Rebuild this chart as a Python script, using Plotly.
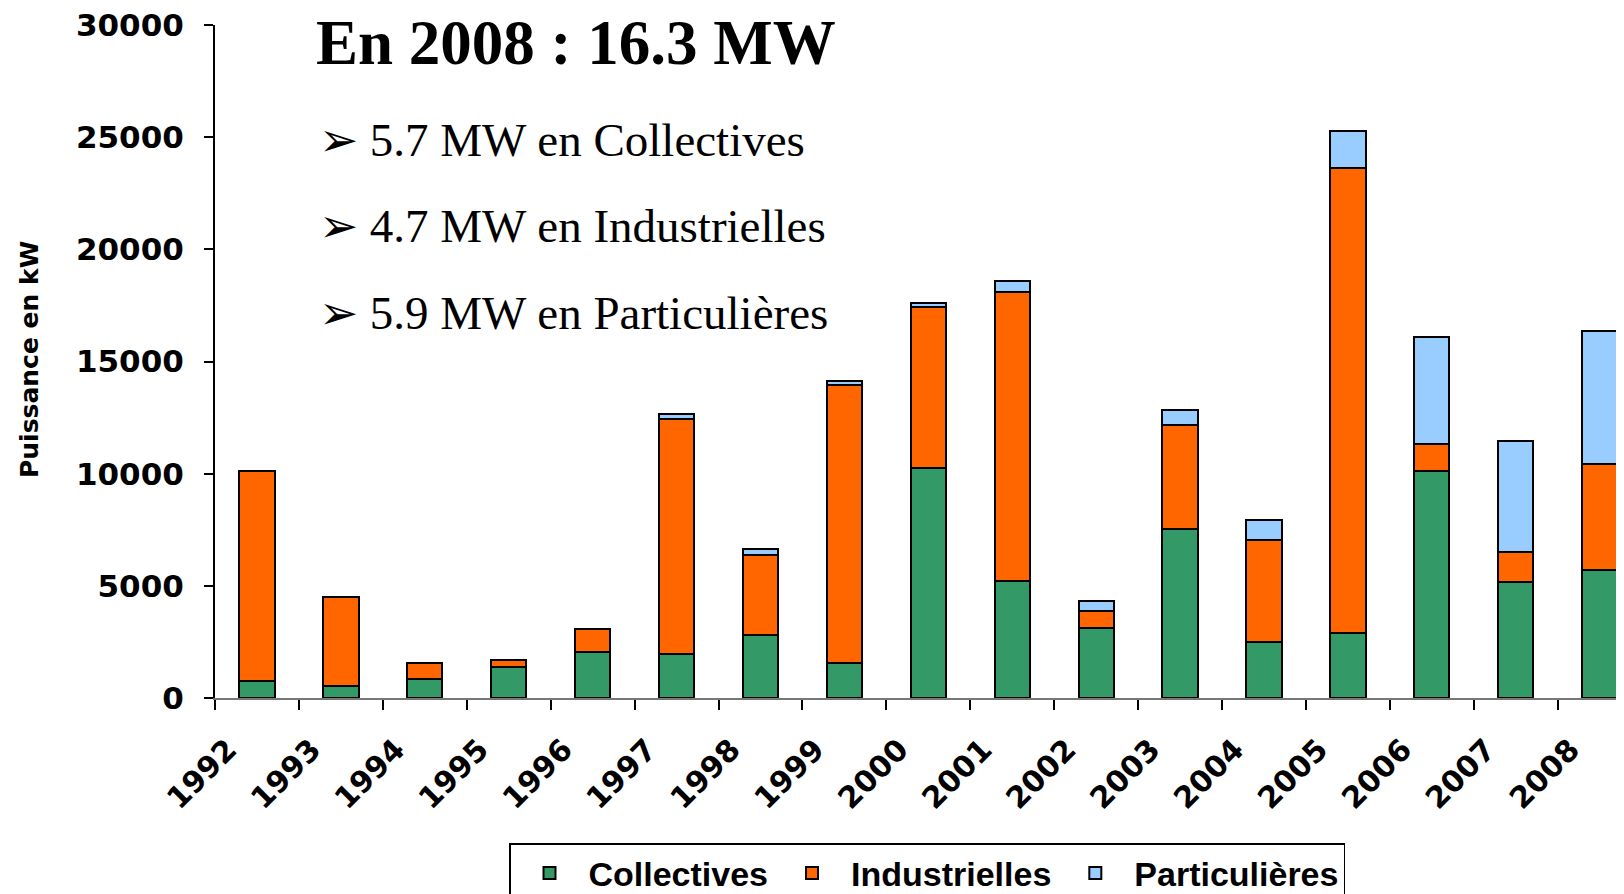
import plotly.graph_objects as go

years = ["1992", "1993", "1994", "1995", "1996", "1997", "1998", "1999", "2000",
         "2001", "2002", "2003", "2004", "2005", "2006", "2007", "2008"]
collectives = [740, 550, 830, 1385, 2030, 1940, 2815, 1570, 10245,
               5215, 3140, 7520, 2490, 2910, 10105, 5170, 5720]
industrielles = [9370, 3970, 740, 320, 1060, 10475, 3555, 12370, 7200,
                 12875, 735, 4665, 4570, 20720, 1205, 1340, 4710]
particulieres = [0, 0, 0, 0, 0, 230, 275, 180, 185,
                 510, 465, 645, 880, 1660, 4800, 4935, 5910]

series = [
    ("Collectives", collectives, "#339966"),
    ("Industrielles", industrielles, "#FF6600"),
    ("Particulières", particulieres, "#99CCFF"),
]

fig = go.Figure()
for name, vals, col in series:
    fig.add_trace(go.Bar(
        x=years, y=vals, name=name, width=0.42,
        marker=dict(color=col, line=dict(color="black", width=2)),
    ))

# page has an 8px body margin: work in page coordinates, convert to figure ones
OFF = 8
W, H = 1624 - OFF, 894 - OFF
L, T = 215 - OFF, 25 - OFF
PB = 698 - OFF  # plot bottom in figure pixels
R, B = 0, H - PB
pw, ph = W - L - R, PB - T

def px(x):
    return (x - OFF - L) / pw

def py(y):
    return (PB - (y - OFF)) / ph

fig.update_layout(
    width=W, height=H,
    margin=dict(l=L, r=R, t=T, b=B, autoexpand=False),
    barmode="stack",
    plot_bgcolor="white", paper_bgcolor="white",
    showlegend=True,
    legend=dict(
        orientation="h", xref="container", yref="container",
        x=(927 - OFF) / W, xanchor="center", y=1 - (843 - OFF) / H, yanchor="top",
        bordercolor="black", borderwidth=1.5,
        font=dict(family="Liberation Sans", size=34, color="black", weight="bold"),
        traceorder="normal", itemwidth=68,
    ),
    xaxis=dict(
        type="category", range=[-0.5, 16.29], automargin=False,
        showline=True, linecolor="#777777", linewidth=2,
        ticks="outside", tickson="boundaries", ticklen=10, tickcolor="black", tickwidth=2,
        tickangle=-45, ticklabelstandoff=20, ticklabelshift=-29,
        tickfont=dict(family="DejaVu Sans", size=30, color="black", weight="bold"),
        showgrid=False,
    ),
    yaxis=dict(
        range=[0, 30000], dtick=5000, tickformat="d", automargin=False,
        showline=True, linecolor="black", linewidth=2,
        ticks="outside", ticklen=9, tickcolor="black", tickwidth=2,
        ticklabelstandoff=14, ticklabeloverflow="allow",
        tickfont=dict(family="DejaVu Sans", size=31, color="black", weight="bold"),
        showgrid=False, zeroline=False,
    ),
    annotations=[
        dict(xref="paper", yref="paper", x=px(29), y=py(360), text="<b>Puissance en kW</b>",
             textangle=-90, showarrow=False, xanchor="center", yanchor="middle",
             font=dict(family="DejaVu Sans", size=25, color="black")),
        dict(xref="paper", yref="paper", x=px(314), y=py(43), text="<b>En 2008 : 16.3 MW</b>",
             showarrow=False, xanchor="left", yanchor="middle",
             font=dict(family="Liberation Serif", size=63, color="black")),
        dict(xref="paper", yref="paper", x=px(317), y=py(140), text="➢ 5.7 MW en Collectives",
             showarrow=False, xanchor="left", yanchor="middle",
             font=dict(family="Liberation Serif", size=47, color="black")),
        dict(xref="paper", yref="paper", x=px(317), y=py(226), text="➢ 4.7 MW en Industrielles",
             showarrow=False, xanchor="left", yanchor="middle",
             font=dict(family="Liberation Serif", size=47, color="black")),
        dict(xref="paper", yref="paper", x=px(317), y=py(313), text="➢ 5.9 MW en Particulières",
             showarrow=False, xanchor="left", yanchor="middle",
             font=dict(family="Liberation Serif", size=47, color="black")),
    ],
)

fig.write_html("out.html")
